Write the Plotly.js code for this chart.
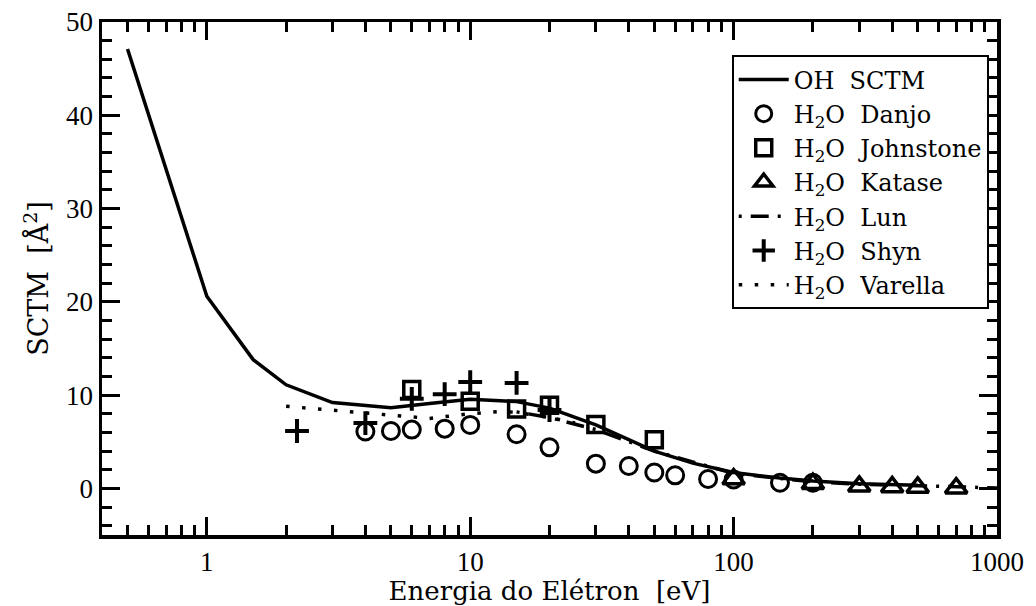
<!DOCTYPE html>
<html>
<head>
<meta charset="utf-8">
<script src="https://cdn.plot.ly/plotly-3.0.1.min.js"></script>
<style>html,body{margin:0;padding:0;background:#fff;}#chart{width:1036px;height:606px;}</style>
</head>
<body>
<div id="chart"></div>
<script>
// OH SCTM (theory)
const sctmE   = [0.5, 1, 1.5, 2, 3, 5, 7, 10, 15, 20, 30, 40, 50, 70, 100, 150, 200, 300, 500];
const sctmVal = [47.1, 20.6, 13.8, 11.1, 9.2, 8.65, 9.1, 9.55, 9.3, 8.6, 6.8, 5.2, 4.0, 2.7, 1.7, 1.1, 0.8, 0.5, 0.33];
// H2O Danjo
const danjoE   = [4, 5, 6, 8, 10, 15, 20, 30, 40, 50, 60, 80, 100, 150, 200];
const danjoVal = [6.1, 6.15, 6.3, 6.4, 6.8, 5.8, 4.4, 2.65, 2.4, 1.7, 1.4, 1.0, 0.95, 0.6, 0.6];
// H2O Johnstone
const johnE   = [6, 10, 15, 20, 30, 50];
const johnVal = [10.6, 9.35, 8.5, 8.9, 6.85, 5.2];
// H2O Katase
const katE   = [100, 200, 300, 400, 500, 700];
const katVal = [1.0, 0.5, 0.22, 0.15, 0.1, 0.02];
// H2O Lun
const lunE   = [15, 20, 30, 50, 100, 200, 300, 500, 700, 1000];
const lunVal = [8.2, 7.6, 6.3, 4.0, 1.6, 0.7, 0.45, 0.25, 0.15, 0.05];
// H2O Shyn
const shynE   = [2.2, 4, 6, 8, 10, 15, 20];
const shynVal = [6.15, 7.0, 9.6, 10.1, 11.4, 11.3, 8.4];
// H2O Varella
const varE   = [2, 3, 5, 7, 10, 13, 15, 20, 25];
const varVal = [8.8, 8.4, 7.85, 7.5, 8.0, 8.25, 8.15, 7.6, 7.0];

const xTickVals = [1, 10, 100, 1000];
const xTickText = ['1', '10', '100', '1000'];

const FONT = '"Liberation Serif", "Times New Roman", Times, serif';
const FONT2 = '"DejaVu Serif", "Liberation Serif", serif';
const NB = '\u00A0';

const traces = [
  {x: sctmE, y: sctmVal, name: 'OH' + NB + NB + 'SCTM', mode: 'lines',
   line: {color: '#000', width: 3.5}},
  {x: danjoE, y: danjoVal, name: 'H<sub>2</sub>O' + NB + NB + 'Danjo', mode: 'markers',
   marker: {symbol: 'circle-open', size: 17, color: '#000', line: {width: 3, color: '#000'}}},
  {x: johnE, y: johnVal, name: 'H<sub>2</sub>O' + NB + NB + 'Johnstone', mode: 'markers',
   marker: {symbol: 'square-open', size: 16, color: '#000', line: {width: 3.5, color: '#000'}}},
  {x: katE, y: katVal, name: 'H<sub>2</sub>O' + NB + NB + 'Katase', mode: 'markers',
   marker: {symbol: 'triangle-up-open', size: 19, color: '#000', line: {width: 3.5, color: '#000'}}},
  {x: lunE, y: lunVal, name: 'H<sub>2</sub>O' + NB + NB + 'Lun', mode: 'lines',
   line: {color: '#000', width: 3.5, dash: '3px,9px,18px,9px'}},
  {x: shynE, y: shynVal, name: 'H<sub>2</sub>O' + NB + NB + 'Shyn', mode: 'markers',
   marker: {symbol: 'cross-thin-open', size: 17, color: '#000', line: {width: 4, color: '#000'}}},
  {x: varE, y: varVal, name: 'H<sub>2</sub>O' + NB + NB + 'Varella', mode: 'lines',
   line: {color: '#000', width: 3.5, dash: '3.5px,12.5px'}}
];

const layout = {
  width: 1036, height: 606,
  margin: {l: 102, r: 39, t: 22, b: 71},
  paper_bgcolor: '#fff', plot_bgcolor: '#fff',
  font: {family: FONT, color: '#000', size: 26},
  showlegend: true,
  legend: {
    x: 0.7036, y: 0.935, xanchor: 'left', yanchor: 'top',
    bgcolor: '#fff', bordercolor: '#000', borderwidth: 2,
    font: {family: FONT2, size: 24, color: '#000'},
    itemwidth: 50, tracegroupgap: 0
  },
  xaxis: {
    type: 'log', range: [Math.log10(0.4), 3],
    tickvals: xTickVals, ticktext: xTickText,
    ticks: 'inside', ticklen: 18, tickwidth: 3, tickcolor: '#000',
    minor: {ticks: 'inside', ticklen: 10, tickwidth: 3, tickcolor: '#000', dtick: 'D1', showgrid: false},
    showline: true, linewidth: 3.5, linecolor: '#000', mirror: 'ticks',
    showgrid: false, zeroline: false,
    tickfont: {family: FONT, size: 27, color: '#000'},
    title: {text: 'Energia do Elétron' + NB + NB + '[eV]', font: {family: FONT2, size: 26, color: '#000'}, standoff: 20}
  },
  yaxis: {
    range: [-5, 50], dtick: 10, tick0: 0,
    ticks: 'inside', ticklen: 18, tickwidth: 3, tickcolor: '#000',
    minor: {ticks: 'inside', ticklen: 10, tickwidth: 3, tickcolor: '#000', dtick: 2, showgrid: false},
    showline: true, linewidth: 3.5, linecolor: '#000', mirror: 'ticks',
    showgrid: false, zeroline: false,
    tickfont: {family: FONT, size: 27, color: '#000'},
    title: {text: 'SCTM' + NB + NB + '[Å<sup>2</sup>]', font: {family: FONT2, size: 27, color: '#000'}, standoff: 10}
  }
};

Plotly.newPlot('chart', traces, layout, {displayModeBar: false, staticPlot: true});
</script>
</body>
</html>
